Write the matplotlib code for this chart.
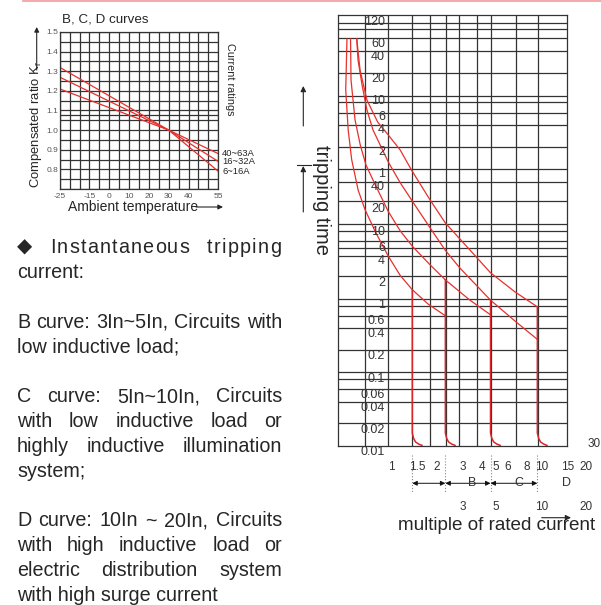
import numpy as np
import matplotlib.pyplot as plt
from matplotlib.transforms import ScaledTranslation, blended_transform_factory

plt.rcParams['font.family'] = ['Liberation Sans', 'DejaVu Sans']
plt.rcParams['mathtext.fontset'] = 'custom'
plt.rcParams['mathtext.rm'] = 'Liberation Sans'
plt.rcParams['mathtext.it'] = 'Liberation Sans'

RED = '#e8302c'
INK = '#262626'
GRID = '#333333'
W, H = 601, 605

# temperature compensation (B, C, D curves)
temp = [-25, 30, 55]
kr_40_63 = [1.21, 1.0, 0.88]
kr_16_32 = [1.27, 1.0, 0.84]
kr_6_16 = [1.32, 1.0, 0.79]
rating_labels = ['40~63A', '16~32A', '6~16A']
temp_ticks = [-25, -10, 0, 10, 20, 30, 40, 55]
temp_labels = ['-25', '-15', '0', '10', '20', '30', '40', '55']
kr_ticks = [0.8, 0.9, 1.0, 1.1, 1.2, 1.3, 1.4, 1.5]

# tripping curves: x = multiple of rated current, y = seconds
curve_a_x = [0.53, 0.52, 0.54, 0.57, 0.63, 0.70, 0.82, 1.0, 1.2, 1.45, 1.84, 2.4]
curve_a_t = [3800, 770, 220, 86, 33, 18, 9.0, 4.2, 2.3, 1.46, 0.94, 0.65]
curve_b_x = [0.56, 0.564, 0.60, 0.65, 0.71, 0.82, 1.0, 1.2, 1.45, 1.9, 2.4, 3.5, 4.8]
curve_b_t = [3800, 1050, 300, 137, 73, 39, 17, 9.3, 5.7, 3.2, 2.0, 1.06, 0.67]
curve_c_x = [0.616, 0.628, 0.668, 0.72, 0.79, 1.0, 1.2, 1.5, 1.9, 2.39, 3.0, 4.8, 7.0, 9.85]
curve_c_t = [3800, 1960, 900, 410, 220, 80, 42, 21, 10.2, 5.1, 2.9, 1.06, 0.55, 0.31]
curve_d_x = [0.616, 0.648, 0.72, 0.85, 1.0, 1.2, 1.43, 1.9, 2.4, 3.5, 4.8, 7.0, 9.85]
curve_d_t = [3800, 1430, 560, 280, 187, 117, 62, 24.4, 11.9, 5.1, 2.5, 1.37, 0.86]
inst_x = [1.445, 2.4, 4.8, 9.85]
inst_top_t = [1.46, 2.0, 1.06, 0.86]
hook_t = [0.0165, 0.0140, 0.0125, 0.0117, 0.0112]
hook_k = [1.0, 1.02, 1.05, 1.10, 1.16]

time_min_labels = ['120', '60', '40', '20', '10', '6', '4', '2', '1']
time_sec_labels = ['40', '20', '10', '6', '4', '2', '1', '0.6', '0.4', '0.2',
                   '0.1', '0.06', '0.04', '0.02', '0.01']
mult_labels = ['1', '1.5', '2', '3', '4', '5', '6', '8', '10', '15', '20']
mult_labels2 = ['3', '5', '10', '20']
band_labels = ['', 'B', 'C']

notes = [
    ['\u25c6 Instantaneous tripping', 'current:'],
    ['B curve: 3In~5In, Circuits with', 'low inductive load;'],
    ['C curve: 5In~10In, Circuits', 'with low inductive load or',
     'highly inductive illumination', 'system;'],
    ['D curve: 10In ~ 20In, Circuits', 'with high inductive load or',
     'electric distribution system', 'with high surge current'],
]

fig = plt.figure(figsize=(6.01, 6.05), dpi=100)


def px_axes(x0, y0, x1, y1):
    return fig.add_axes([x0 / W, 1 - y1 / H, (x1 - x0) / W, (y1 - y0) / H])


def px_off(dx, dy):
    return ScaledTranslation(dx / 100, -dy / 100, fig.dpi_scale_trans)


ov = px_axes(0, 0, W, H)
ov.set_xlim(0, W)
ov.set_ylim(H, 0)
ov.axis('off')

ov.plot([23, W], [0.8, 0.8], color='#f29a9a', lw=1.2)

# ---------- compensation chart
ax1 = px_axes(59.7, 32, 218.3, 189)
ax1.set_facecolor('none')
ax1.set_xlim(-25, 55)
ax1.set_ylim(0.7, 1.5)
for v in np.arange(-25, 56, 5):
    ax1.axvline(v, color=GRID, lw=0.9)
for v in list(np.arange(0.7, 1.51, 0.05)) + [1.077]:
    ax1.axhline(v, color=GRID, lw=0.9)
for s in ax1.spines.values():
    s.set_color(GRID)
    s.set_linewidth(0.9)
for kr in (kr_40_63, kr_16_32, kr_6_16):
    ax1.plot(temp, kr, color=RED, lw=0.9)
ax1.set_xticks(temp_ticks, temp_labels)
ax1.set_yticks(kr_ticks, ['%.1f' % v for v in kr_ticks])
ax1.tick_params(length=0, labelsize=6, colors='#555555')
ax1.tick_params(axis='x', pad=3)
ax1.tick_params(axis='y', pad=1)
tr = blended_transform_factory(ax1.transAxes, ax1.transData) + px_off(4, 0)
for lab, kr in zip(rating_labels, (kr_40_63, kr_16_32, kr_6_16)):
    ax1.text(1.0, kr[-1], lab, transform=tr, fontsize=6.8, va='center',
             color=INK)

ov.text(62, 20, 'B, C, D curves', fontsize=9.6, va='center', color=INK)
ov.text(230, 79, 'Current ratings', rotation=270, fontsize=7.8,
        ha='center', va='center', color=INK)
ov.text(36.5, 124, 'Compensated ratio K$_{\\rm r}$', rotation=90,
        fontsize=9.4, ha='center', va='center', color=INK)
ov.annotate('', xy=(36.7, 27), xytext=(36.7, 70),
            arrowprops=dict(arrowstyle='-|>', color=INK, lw=0.8,
                            mutation_scale=7, shrinkA=0, shrinkB=0))
ov.text(68, 207, 'Ambient temperature', fontsize=10, va='center', color=INK)
ov.annotate('', xy=(223, 207), xytext=(196, 207),
            arrowprops=dict(arrowstyle='-|>', color=INK, lw=0.8,
                            mutation_scale=7, shrinkA=0, shrinkB=0))

# ---------- tripping characteristic
ax2 = px_axes(338.3, 15, 566.7, 446)
ax2.set_facecolor('none')
ax2.set_xscale('log')
ax2.set_yscale('log')
ax2.set_xlim(0.464, 15.46)
ax2.set_ylim(0.01099, 8035)
ax2.tick_params(which='both', length=0, labelbottom=False, labelleft=False)
for v in [0.70, 1, 1.445, 1.897, 2.425, 2.974, 3.92, 4.816, 7.10, 10]:
    ax2.axvline(v, color=GRID, lw=0.9)
for v in [6310, 5130, 3870, 2600, 1293, 641, 521, 376, 256, 130, 63.8, 43.3,
          23.7, 11.4, 9.25, 6.76, 5.38, 4.22, 2.26, 1.10, 0.891, 0.645, 0.439,
          0.222, 0.111, 0.0896, 0.0649, 0.0440, 0.0224]:
    ax2.axhline(v, color=GRID, lw=0.9)
for s in ax2.spines.values():
    s.set_color(GRID)
    s.set_linewidth(0.9)

for cx, ct in ((curve_a_x, curve_a_t), (curve_b_x, curve_b_t),
               (curve_c_x, curve_c_t), (curve_d_x, curve_d_t)):
    ax2.plot(cx, ct, color=RED, lw=0.9)
for x, top in zip(inst_x, inst_top_t):
    ax2.plot([x] + [x * k for k in hook_k], [top] + hook_t, color='#d9262a',
             lw=1.1)

time_vals = [float(v) * 60 for v in time_min_labels] + \
    [float(v) for v in time_sec_labels]
ylab_tr = ax2.transData + px_off(-3.3, 3)
for lab, v in zip(time_min_labels + time_sec_labels, time_vals):
    ax2.text(1, v, lab, transform=ylab_tr, ha='right', va='center',
             fontsize=9, color='#333333')

btr = blended_transform_factory(ax2.transData, ax2.transAxes)
for lab in mult_labels:
    ax2.text(float(lab), -0.048, lab, transform=btr + px_off(3, 0),
             ha='center', va='center', fontsize=8.5, color='#333333',
             clip_on=False)
for lab in mult_labels2:
    ax2.text(float(lab), -0.1415, lab, transform=btr + px_off(3, 0),
             ha='center', va='center', fontsize=8.5, color='#333333',
             clip_on=False)
for x in inst_x:
    ax2.plot([x, x], [-0.021, -0.107], transform=btr, clip_on=False,
             ls=':', color='#888888', lw=0.8)
for a, b, lab in zip(inst_x[:-1], inst_x[1:], band_labels):
    ax2.annotate('', xy=(b, -0.0865), xytext=(a, -0.0865), xycoords=btr,
                 textcoords=btr,
                 arrowprops=dict(arrowstyle='<|-|>', color='#111111', lw=0.7,
                                 mutation_scale=7, shrinkA=0, shrinkB=0))
    ax2.text(a ** 0.4 * b ** 0.6, -0.0865, lab, transform=btr, ha='center',
             va='center', fontsize=9, color='#333333')
ax2.text(1.0, -0.0865, 'D', transform=ax2.transAxes, ha='center',
         va='center', fontsize=9, color='#333333')

ov.text(588, 444, '30', fontsize=8.5, va='center', ha='left', color='#333333')
ov.text(497, 525, 'multiple of rated current', fontsize=13.6, ha='center',
        va='center', color=INK)
ov.annotate('', xy=(571, 517.7), xytext=(541.7, 517.7),
            arrowprops=dict(arrowstyle='-|>', color=INK, lw=0.8,
                            mutation_scale=8, shrinkA=0, shrinkB=0))

ov.text(321, 200, 'tripping time', rotation=270, fontsize=14.5, ha='center',
        va='center', color=INK)
ov.annotate('', xy=(303.3, 86), xytext=(303.3, 126),
            arrowprops=dict(arrowstyle='-|>', color=INK, lw=0.8,
                            mutation_scale=8, shrinkA=0, shrinkB=0))
ov.plot([297, 311], [165, 165], color=INK, lw=0.8)
ov.annotate('', xy=(303.3, 166), xytext=(303.3, 212),
            arrowprops=dict(arrowstyle='-|>', color=INK, lw=0.8,
                            mutation_scale=8, shrinkA=0, shrinkB=0))

# ---------- notes, justified between x0 and x1
renderer = fig.canvas.get_renderer()
FS = 14.2


def place_word(word, y, tracking):
    # returns list of (text, width); letter-spaced when tracking > 0
    if tracking == 0:
        t = ov.text(0, y, word, fontsize=FS, va='baseline', color=INK)
        return [(t, t.get_window_extent(renderer).width)]
    parts = []
    for ch in word:
        t = ov.text(0, y, ch, fontsize=FS, va='baseline', color=INK)
        parts.append((t, t.get_window_extent(renderer).width + tracking))
    return parts


x0, x1 = 17, 282
k = 0
for pi, para in enumerate(notes):
    for i, line in enumerate(para):
        y = 253 + 24.85 * k
        last = i == len(para) - 1
        words = line.split(' ')
        if last or len(words) == 1:
            ov.text(x0, y, line, fontsize=FS, va='baseline', color=INK)
        else:
            tracking = 1.2 if (pi == 0 and i == 0) else 0
            groups = [place_word(w, y, tracking) for w in words]
            widths = [sum(w for _, w in g) for g in groups]
            gap = (x1 - x0 - sum(widths)) / (len(words) - 1)
            x = x0
            for g, gw in zip(groups, widths):
                cx = x
                for t, w in g:
                    t.set_x(cx)
                    cx += w
                x += gw + gap
        k += 1
    k += 1

fig.savefig('out.png', dpi=100)
